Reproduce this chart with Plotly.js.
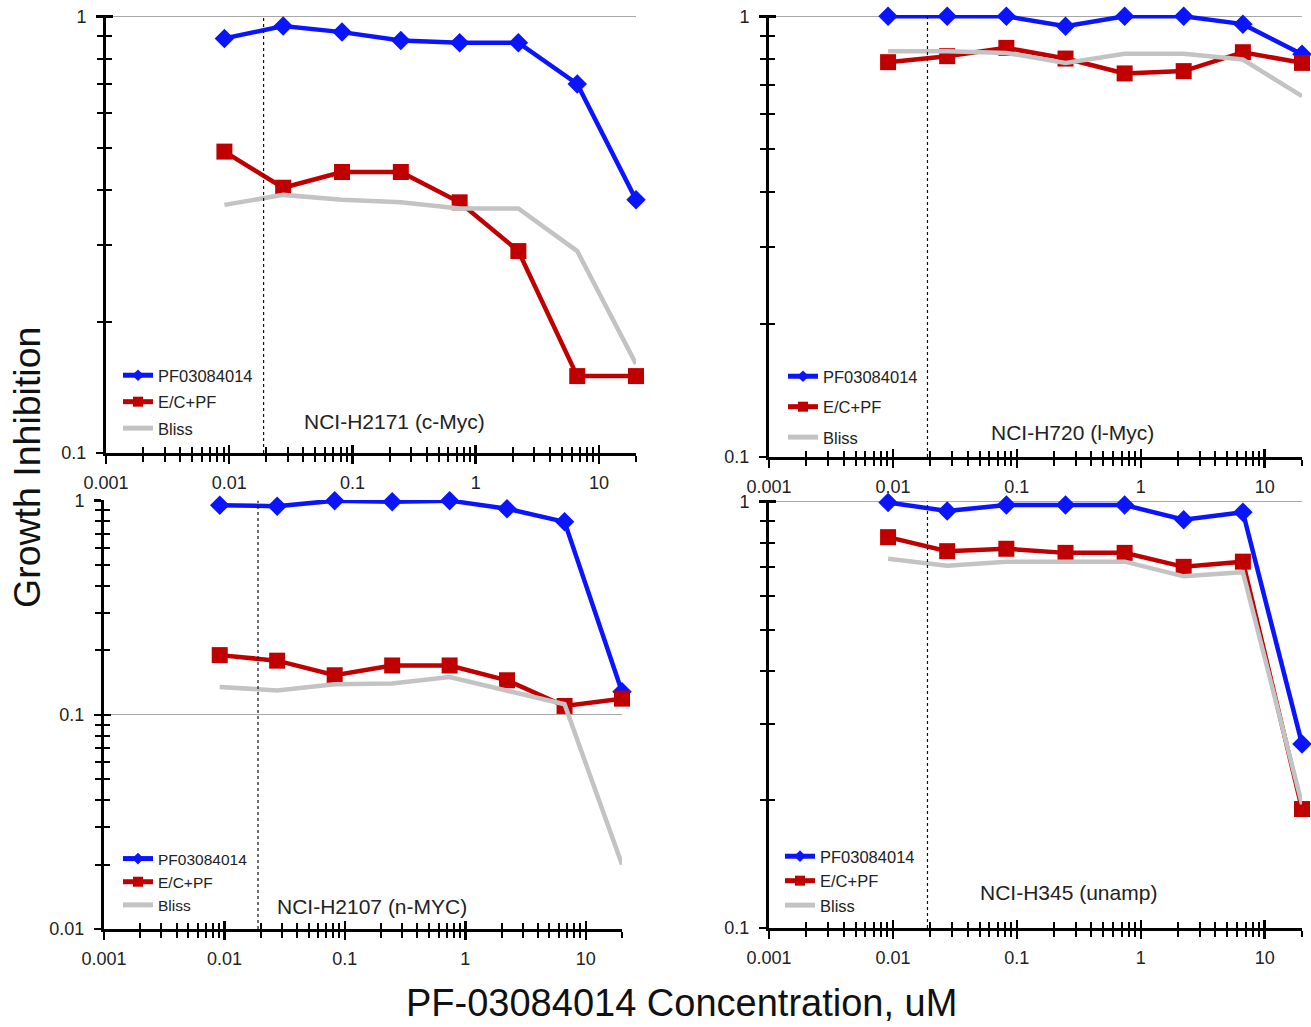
<!DOCTYPE html>
<html><head><meta charset="utf-8">
<script src="https://cdn.plot.ly/plotly-3.0.1.min.js"></script>
<style>html,body{margin:0;padding:0;background:#fff}#chart{width:1311px;height:1027px}</style>
</head><body><div id="chart"></div>
<script>
// ---- data ----
const conc = [0.00914, 0.0274, 0.0823, 0.247, 0.741, 2.22, 6.67, 20];
const refConc = 0.019;
const seriesNames = ["PF03084014", "E/C+PF", "Bliss"];
const panelLabels = ["NCI-H2171 (c-Myc)", "NCI-H720 (l-Myc)", "NCI-H2107 (n-MYC)", "NCI-H345 (unamp)"];

const h2171_pf    = [0.89, 0.95, 0.92, 0.88, 0.87, 0.87, 0.70, 0.38];
const h2171_ec    = [0.49, 0.405, 0.44, 0.44, 0.375, 0.29, 0.15, 0.15];
const h2171_bliss = [0.37, 0.39, 0.38, 0.375, 0.363, 0.363, 0.29, 0.16];

const h720_pf    = [1.0, 1.0, 1.0, 0.95, 1.0, 1.0, 0.96, 0.82];
const h720_ec    = [0.787, 0.812, 0.848, 0.802, 0.742, 0.751, 0.829, 0.784];
const h720_bliss = [0.833, 0.833, 0.826, 0.784, 0.822, 0.822, 0.798, 0.659];

const h2107_pf    = [0.952, 0.942, 1.0, 0.989, 1.0, 0.917, 0.796, 0.128];
const h2107_ec    = [0.19, 0.179, 0.153, 0.17, 0.17, 0.145, 0.11, 0.119];
const h2107_bliss = [0.135, 0.13, 0.139, 0.14, 0.15, 0.13, 0.112, 0.02];

const h345_pf    = [0.994, 0.949, 0.98, 0.98, 0.98, 0.905, 0.943, 0.27];
const h345_ec    = [0.824, 0.764, 0.774, 0.757, 0.757, 0.702, 0.722, 0.19];
const h345_bliss = [0.733, 0.706, 0.722, 0.722, 0.722, 0.667, 0.682, 0.195];

const xTickVals = [0.001, 0.01, 0.1, 1, 10];
const xTickText = ["0.001", "0.01", "0.1", "1", "10"];
const yTickVals = [0.01, 0.1, 1];
const yTickText = ["0.01", "0.1", "1"];
const xMinor = [0.002,0.003,0.004,0.005,0.006,0.007,0.008,0.009,
                0.02,0.03,0.04,0.05,0.06,0.07,0.08,0.09,
                0.2,0.3,0.4,0.5,0.6,0.7,0.8,0.9,
                2,3,4,5,6,7,8,9,20];
const yMinor = [0.02,0.03,0.04,0.05,0.06,0.07,0.08,0.09,
                0.2,0.3,0.4,0.5,0.6,0.7,0.8,0.9];

// ---- styling / layout ----
const FONT = "Liberation Sans, Arial, sans-serif";
const BLUE = "#0a14ff", RED = "#c00000", GRAY = "#c3c3c3";
const W = 1311, H = 1027;
const px = v => v / W, py = v => 1 - v / H;

const panels = [
  {pf: h2171_pf, ec: h2171_ec, bl: h2171_bliss, x0:106, x1:636, yTop:15, yBot:453, yr:[-1,0.003], ymin:0.1,
   leg:{x:118, y:358, gap:2, fs:16.5}, lab:{x:395, y:421}},
  {pf: h720_pf, ec: h720_ec, bl: h720_bliss, x0:769, x1:1302, yTop:15, yBot:457, yr:[-1,0.003], ymin:0.1,
   leg:{x:783, y:359, gap:6, fs:16.5}, lab:{x:1072, y:433}},
  {pf: h2107_pf, ec: h2107_ec, bl: h2107_bliss, x0:104, x1:622, yTop:500, yBot:929, yr:[-2,0.003], ymin:0.01,
   leg:{x:118, y:842, gap:0, fs:15.5}, lab:{x:372, y:906}},
  {pf: h345_pf, ec: h345_ec, bl: h345_bliss, x0:769, x1:1302, yTop:500, yBot:928, yr:[-1,0.003], ymin:0.1,
   leg:{x:780, y:839, gap:0, fs:16.5}, lab:{x:1068, y:892}}
];

const traces = [];
const layout = {
  width: W, height: H,
  margin: {l:0, r:0, t:0, b:0},
  paper_bgcolor: "#fff", plot_bgcolor: "rgba(0,0,0,0)",
  font: {family: FONT, color: "#222"},
  showlegend: true,
  annotations: [],
};

const xr = [-3, Math.log10(20)];

panels.forEach((p, i) => {
  const n = i + 1, m = i + 5;
  const xa = "x" + n, ya = "y" + n;
  const legName = n === 1 ? "legend" : "legend" + n;

  const common = {type: "scatter", mode: "lines+markers", x: conc, xaxis: xa, yaxis: ya,
                  showlegend: false, cliponaxis: false, hoverinfo: "skip"};
  traces.push(Object.assign({}, common, {name: seriesNames[0], y: p.pf,
    line: {color: BLUE, width: 4.5}, marker: {symbol: "diamond", size: 15, color: BLUE}}));
  traces.push(Object.assign({}, common, {name: seriesNames[1], y: p.ec,
    line: {color: RED, width: 4.5}, marker: {symbol: "square", size: 16, color: RED}}));
  traces.push(Object.assign({}, common, {name: seriesNames[2], y: p.bl, mode: "lines",
    line: {color: GRAY, width: 4.5}}));
  // dotted reference concentration line
  traces.push({type: "scatter", mode: "lines", x: [refConc, refConc], y: [p.ymin, 1], xaxis: xa, yaxis: ya,
    showlegend: false, hoverinfo: "skip", line: {color: "#111", width: 1.2, dash: "dot"}});
  // legend entries (smaller legend symbols, no data of their own)
  const legCommon = {type: "scatter", x: [null], y: [null], xaxis: xa, yaxis: ya, legend: legName,
                     showlegend: true, hoverinfo: "skip"};
  traces.push(Object.assign({}, legCommon, {name: seriesNames[0], legendgroup: "pf" + n, mode: "lines+markers",
    line: {color: BLUE, width: 5}, marker: {symbol: "diamond", size: 9, color: BLUE}}));
  traces.push(Object.assign({}, legCommon, {name: seriesNames[1], legendgroup: "ec" + n, mode: "lines+markers",
    line: {color: RED, width: 5}, marker: {symbol: "square", size: 10, color: RED}}));
  traces.push(Object.assign({}, legCommon, {name: seriesNames[2], legendgroup: "bl" + n, mode: "lines",
    line: {color: GRAY, width: 5}}));
  // dummy trace for the overlay axes (inner half of crossing ticks)
  traces.push({type: "scatter", mode: "markers", x: [null], y: [null], xaxis: "x" + m, yaxis: "y" + m,
    showlegend: false, hoverinfo: "skip"});

  const dx = [px(p.x0), px(p.x1)], dy = [py(p.yBot), py(p.yTop)];
  layout["xaxis" + n] = {
    type: "log", range: xr, domain: dx, anchor: ya,
    showline: true, linewidth: 3, linecolor: "#000", showgrid: false, zeroline: false,
    tickmode: "array", tickvals: xTickVals, ticktext: xTickText,
    ticks: "outside", ticklen: 8, tickwidth: 2.5, tickcolor: "#000",
    tickfont: {family: FONT, size: 18, color: "#222"}, ticklabelstandoff: 3,
    minor: {tickmode: "array", tickvals: xMinor, ticks: "outside", ticklen: 6, tickwidth: 2, tickcolor: "#000", showgrid: false}
  };
  layout["yaxis" + n] = {
    type: "log", range: p.yr, domain: dy, anchor: xa,
    showline: true, linewidth: 3, linecolor: "#000", zeroline: false,
    showgrid: true, gridcolor: "#a8a8a8", gridwidth: 1.3,
    tickmode: "array", tickvals: yTickVals, ticktext: yTickText,
    ticks: "outside", ticklen: 7, tickwidth: 2.5, tickcolor: "#000",
    tickfont: {family: FONT, size: 18, color: "#222"}, ticklabelstandoff: 6,
    minor: {tickmode: "array", tickvals: yMinor, ticks: "outside", ticklen: 6, tickwidth: 2, tickcolor: "#000", showgrid: false}
  };
  layout["xaxis" + m] = {
    type: "log", range: xr, overlaying: xa, anchor: "y" + m, showline: false, showgrid: false, zeroline: false,
    tickmode: "array", tickvals: xTickVals, showticklabels: false,
    ticks: "inside", ticklen: 8, tickwidth: 2.5, tickcolor: "#000",
    minor: {tickmode: "array", tickvals: xMinor, ticks: "inside", ticklen: 6, tickwidth: 2, tickcolor: "#000", showgrid: false}
  };
  layout["yaxis" + m] = {
    type: "log", range: p.yr, overlaying: ya, anchor: "x" + m, showline: false, showgrid: false, zeroline: false,
    tickmode: "array", tickvals: yTickVals, showticklabels: false,
    ticks: "inside", ticklen: 7, tickwidth: 2.5, tickcolor: "#000",
    minor: {tickmode: "array", tickvals: yMinor, ticks: "inside", ticklen: 6, tickwidth: 2, tickcolor: "#000", showgrid: false}
  };

  layout[legName] = {
    x: px(p.leg.x), y: py(p.leg.y), xanchor: "left", yanchor: "top", xref: "paper", yref: "paper",
    bgcolor: "rgba(0,0,0,0)", borderwidth: 0, tracegroupgap: p.leg.gap, itemwidth: 30,
    font: {family: FONT, size: p.leg.fs, color: "#222"}, traceorder: "grouped"
  };

  layout.annotations.push({text: panelLabels[i], xref: "paper", yref: "paper",
    x: px(p.lab.x), y: py(p.lab.y), xanchor: "center", yanchor: "middle", showarrow: false,
    font: {family: FONT, size: 21, color: "#222"}});
});

layout.annotations.push({text: "Growth Inhibition", xref: "paper", yref: "paper",
  x: px(27), y: py(468), xanchor: "center", yanchor: "middle", textangle: -90, showarrow: false,
  font: {family: FONT, size: 37.5, color: "#111"}});
layout.annotations.push({text: "PF-03084014 Concentration, uM", xref: "paper", yref: "paper",
  x: px(681), y: py(1003), xanchor: "center", yanchor: "middle", showarrow: false,
  font: {family: FONT, size: 38, color: "#111"}});

Plotly.newPlot("chart", traces, layout, {displayModeBar: false, staticPlot: true});
</script>
</body></html>
